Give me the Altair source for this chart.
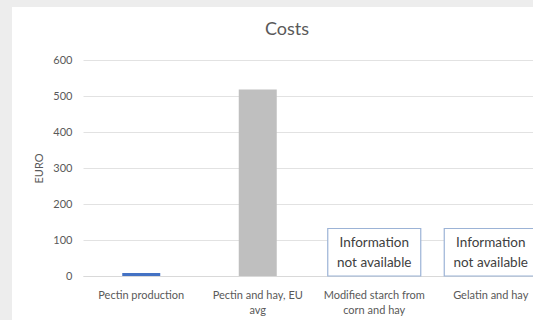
import altair as alt
import pandas as pd

categories = ["Pectin production", "Pectin and hay, EU avg",
              "Modified starch from corn and hay", "Gelatin and hay"]
costs = [8, 518, None, None]
bar_colors = ["#4472c4", "#bfbfbf", None, None]
label_lines = {
    "Pectin production": ["Pectin production"],
    "Pectin and hay, EU avg": ["Pectin and hay, EU", "avg"],
    "Modified starch from corn and hay": ["Modified starch from", "corn and hay"],
    "Gelatin and hay": ["Gelatin and hay"],
}
y_ticks = [0, 100, 200, 300, 400, 500, 600]
note_text = "Information\nnot available"
note_top = 132
note_text_y = 93

bars_df = pd.DataFrame([
    {"category": c, "cost": v, "color": col}
    for c, v, col in zip(categories, costs, bar_colors) if v is not None
])
notes_df = pd.DataFrame([
    {"category": c, "top": note_top, "bottom": 0, "ty": note_text_y, "text": note_text}
    for c, v in zip(categories, costs) if v is None
])

# label expression for multi-line axis labels
expr = "datum.value"
for k, lines in reversed(list(label_lines.items())):
    arr = "[" + ",".join("'" + l.replace("'", "\\'") + "'" for l in lines) + "]"
    expr = f"datum.value == '{k}' ? {arr} : ({expr})"

txt = "#595959"
x_enc = alt.X(
    "category:N", sort=categories,
    scale=alt.Scale(domain=categories, range=[0, 466],
                    paddingInner=0.1, paddingOuter=0.05),
    axis=alt.Axis(title=None, labelAngle=0, ticks=False, domainColor="#d9d9d9",
                  labelFontSize=11, labelColor=txt, labelPadding=13,
                  labelLineHeight=15, labelLimit=200, labelExpr=expr,
                  labelOverlap=False, grid=False),
)
y_scale = alt.Scale(domain=[0, 600], nice=False)
y_axis = alt.Axis(values=y_ticks, tickCount=7, grid=True, gridColor="#e2e2e2",
                  domain=False, ticks=False, labelColor=txt, labelFontSize=11,
                  labelPadding=11, labelOverlap=False, title="EURO", titleFontSize=11,
                  titleFontWeight="normal", titleColor=txt, titlePadding=8)

frame = "#ededed"
left_strip = alt.Chart(alt.Data(values=[{"a": 1}])).mark_rect(fill=frame).encode(
    x=alt.value(-90), x2=alt.value(-71), y=alt.value(-60), y2=alt.value(300)
)
top_strip = alt.Chart(alt.Data(values=[{"a": 1}])).mark_rect(fill=frame).encode(
    x=alt.value(-90), x2=alt.value(450), y=alt.value(-60), y2=alt.value(-53)
)

bars = alt.Chart(bars_df).mark_bar(size=38).encode(
    x=x_enc,
    y=alt.Y("cost:Q", scale=y_scale, axis=y_axis),
    color=alt.Color("color:N", scale=None),
)

boxes = alt.Chart(notes_df).mark_bar(size=93, fill="white", stroke="#9cb3d6",
                                      strokeWidth=1.2).encode(
    x=alt.X("category:N", sort=categories),
    y=alt.Y("top:Q", scale=y_scale),
    y2="bottom:Q",
)

texts = alt.Chart(notes_df).mark_text(lineBreak="\n", fontSize=13.5, color="#404040",
                                       lineHeight=20, baseline="middle").encode(
    x=alt.X("category:N", sort=categories),
    y=alt.Y("ty:Q", scale=y_scale),
    text="text:N",
)

chart = alt.layer(left_strip, top_strip, bars, boxes, texts).properties(
    width=450, height=216,
    autosize=alt.AutoSizeParams(type="none"),
    padding={"left": 83, "top": 60, "right": 0, "bottom": 44},
    background="white",
    title=alt.TitleParams("Costs", fontSize=18, color=txt,
                          fontWeight="normal", dx=-21, offset=-39),
).configure(font="Lato").configure_view(stroke=None)

chart.save("out.html", embed_options={"renderer": "svg", "actions": False})
